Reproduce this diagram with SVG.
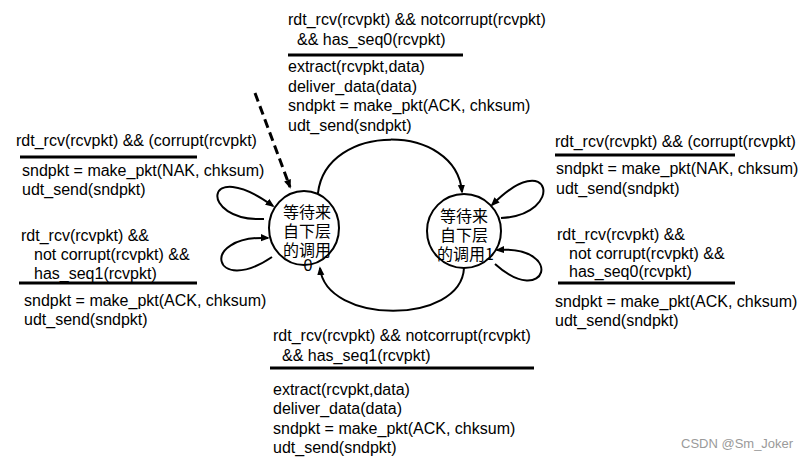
<svg xmlns="http://www.w3.org/2000/svg" width="809" height="460" viewBox="0 0 809 460">
<defs>
<style>
.t{font-family:"Liberation Sans","Noto Sans CJK SC",sans-serif;font-size:16px;fill:#000}
.cj{font-family:"Noto Sans CJK SC","Liberation Sans",sans-serif;font-size:16px;fill:#000}
.sep{stroke:#000;stroke-width:3}
.st{fill:none;stroke:#000;stroke-width:2}
.c{fill:none;stroke:#000;stroke-width:2;marker-end:url(#ah)}
.d{fill:none;stroke:#000;stroke-width:3;stroke-dasharray:9 5;marker-end:url(#ah)}
.wm{font-family:"Liberation Sans",sans-serif;font-size:13px;fill:#9a9a9a}
</style>
<marker id="ah" viewBox="0 0 10 10" refX="8" refY="5" markerWidth="9" markerHeight="9" markerUnits="userSpaceOnUse" orient="auto">
<path d="M0,1 L10,5 L0,9 z" fill="#000"/>
</marker>
</defs>
<rect width="809" height="460" fill="#fff"/>

<g id="connectors">
<path class="d" d="M255,93 L290,187"/>
<path class="c" d="M318,193 C326,122 456,122 462,192"/>
<path class="c" d="M464,268 C461,325 326,325 320,268"/>
<path class="c" d="M264,219 C198,222 203,155 273,206"/>
<path class="c" d="M272,257 C213,297 198,235 268,238"/>
<path class="c" d="M501,218 C566,215 551,145 492,205"/>
<path class="c" d="M495,264 C546,310 566,245 497,250"/>
</g>

<g id="state0">
<ellipse class="st" cx="304" cy="228" rx="35" ry="37"/>
<text class="cj" text-anchor="middle"><tspan x="307" y="217.5">等待来</tspan><tspan x="307" y="237">自下层</tspan><tspan x="307" y="256">的调用</tspan><tspan x="308" y="271" font-family="Liberation Sans, sans-serif">0</tspan></text>
</g>

<g id="state1">
<ellipse class="st" cx="464" cy="231" rx="37" ry="37"/>
<text class="cj"><tspan x="440" y="222">等待来</tspan><tspan x="440" y="241">自下层</tspan><tspan x="437" y="260">的调用1</tspan></text>
</g>

<g id="label-top">
<text class="t" x="288" y="25">rdt_rcv(rcvpkt) &amp;&amp; notcorrupt(rcvpkt)</text>
<text class="t" x="297" y="45">&amp;&amp; has_seq0(rcvpkt)</text>
<line class="sep" x1="288" y1="55" x2="463" y2="55"/>
<text class="t" x="288" y="72">extract(rcvpkt,data)</text>
<text class="t" x="288" y="92">deliver_data(data)</text>
<text class="t" x="288" y="111">sndpkt = make_pkt(ACK, chksum)</text>
<text class="t" x="288" y="131">udt_send(sndpkt)</text>
</g>

<g id="label-bottom">
<text class="t" x="273" y="341">rdt_rcv(rcvpkt) &amp;&amp; notcorrupt(rcvpkt)</text>
<text class="t" x="282" y="361">&amp;&amp; has_seq1(rcvpkt)</text>
<line class="sep" x1="270" y1="368" x2="534" y2="368"/>
<text class="t" x="273" y="395">extract(rcvpkt,data)</text>
<text class="t" x="273" y="414">deliver_data(data)</text>
<text class="t" x="273" y="434">sndpkt = make_pkt(ACK, chksum)</text>
<text class="t" x="273" y="453">udt_send(sndpkt)</text>
</g>

<g id="label-left">
<text class="t" x="16" y="146">rdt_rcv(rcvpkt) &amp;&amp; (corrupt(rcvpkt)</text>
<line class="sep" x1="20" y1="157" x2="197" y2="157"/>
<text class="t" x="22" y="176">sndpkt = make_pkt(NAK, chksum)</text>
<text class="t" x="22" y="195">udt_send(sndpkt)</text>
<text class="t" x="21" y="241">rdt_rcv(rcvpkt) &amp;&amp;</text>
<text class="t" x="34" y="260">not corrupt(rcvpkt) &amp;&amp;</text>
<text class="t" x="34" y="279">has_seq1(rcvpkt)</text>
<line class="sep" x1="19" y1="283" x2="197" y2="283"/>
<text class="t" x="24" y="306">sndpkt = make_pkt(ACK, chksum)</text>
<text class="t" x="24" y="325">udt_send(sndpkt)</text>
</g>

<g id="label-right">
<text class="t" x="555" y="147">rdt_rcv(rcvpkt) &amp;&amp; (corrupt(rcvpkt)</text>
<line class="sep" x1="555" y1="155" x2="735" y2="155"/>
<text class="t" x="556" y="174">sndpkt = make_pkt(NAK, chksum)</text>
<text class="t" x="556" y="194">udt_send(sndpkt)</text>
<text class="t" x="557" y="240">rdt_rcv(rcvpkt) &amp;&amp;</text>
<text class="t" x="569" y="259">not corrupt(rcvpkt) &amp;&amp;</text>
<text class="t" x="569" y="277">has_seq0(rcvpkt)</text>
<line class="sep" x1="558" y1="283" x2="735" y2="283"/>
<text class="t" x="555" y="307">sndpkt = make_pkt(ACK, chksum)</text>
<text class="t" x="555" y="326">udt_send(sndpkt)</text>
</g>

<text class="wm" x="681" y="448">CSDN @Sm_Joker</text>
</svg>
